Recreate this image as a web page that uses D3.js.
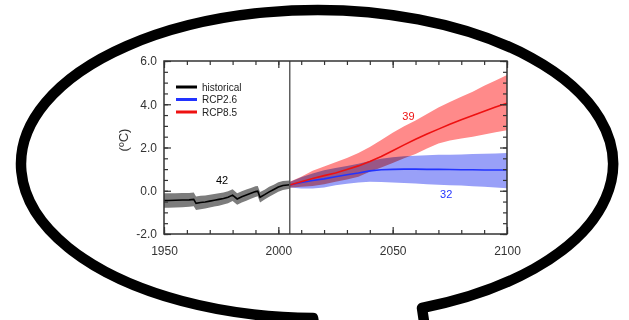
<!DOCTYPE html>
<html>
<head>
<meta charset="utf-8">
<script src="https://cdn.jsdelivr.net/npm/d3@7"></script>
<style>
  body { margin: 0; background: #fff; }
  svg { display: block; font-family: "Liberation Sans", Arial, sans-serif; }
</style>
</head>
<body>
<div id="container"></div>
<script>
/* DATA */
const histYears  = [1950, 1952, 1955, 1958, 1961, 1963, 1964, 1966, 1968, 1970, 1972, 1974, 1976, 1978, 1980, 1982, 1984, 1986, 1988, 1990, 1991, 1992, 1994, 1996, 1998, 2000, 2002, 2005];
const histMean   = [-0.45, -0.45, -0.44, -0.43, -0.42, -0.40, -0.58, -0.54, -0.52, -0.48, -0.44, -0.40, -0.36, -0.30, -0.20, -0.38, -0.28, -0.20, -0.12, -0.04, -0.02, -0.30, -0.18, -0.05, 0.06, 0.17, 0.24, 0.28];
const histSpread = [0.34, 0.34, 0.33, 0.33, 0.32, 0.32, 0.31, 0.31, 0.30, 0.30, 0.29, 0.29, 0.28, 0.28, 0.27, 0.27, 0.26, 0.26, 0.25, 0.25, 0.24, 0.24, 0.23, 0.23, 0.22, 0.22, 0.21, 0.19];

const projYears = [2005, 2010, 2015, 2020, 2025, 2030, 2035, 2040, 2045, 2050, 2055, 2060, 2065, 2070, 2075, 2080, 2085, 2090, 2095, 2100];
const rcp26Mean = [0.27, 0.38, 0.47, 0.55, 0.65, 0.74, 0.82, 0.92, 0.97, 0.99, 1.00, 1.00, 0.99, 0.99, 0.98, 0.97, 0.97, 0.96, 0.96, 0.96];
const rcp26Low  = [0.15, 0.10, 0.10, 0.15, 0.25, 0.32, 0.38, 0.42, 0.40, 0.38, 0.36, 0.33, 0.30, 0.28, 0.26, 0.24, 0.21, 0.18, 0.15, 0.12];
const rcp26High = [0.40, 0.62, 0.80, 0.95, 1.05, 1.15, 1.25, 1.38, 1.48, 1.55, 1.60, 1.62, 1.64, 1.66, 1.67, 1.68, 1.70, 1.71, 1.72, 1.74];
const rcp85Mean = [0.27, 0.42, 0.57, 0.70, 0.82, 0.98, 1.15, 1.35, 1.58, 1.85, 2.12, 2.38, 2.62, 2.85, 3.08, 3.28, 3.48, 3.68, 3.87, 4.05];
const rcp85Low  = [0.14, 0.18, 0.22, 0.30, 0.42, 0.52, 0.65, 0.88, 1.08, 1.28, 1.50, 1.70, 1.95, 2.18, 2.32, 2.42, 2.50, 2.60, 2.70, 2.80];
const rcp85High = [0.42, 0.65, 0.92, 1.12, 1.32, 1.52, 1.75, 2.02, 2.35, 2.68, 2.98, 3.25, 3.55, 3.85, 4.10, 4.35, 4.58, 4.85, 5.10, 5.35];

const xTicks = [1950, 2000, 2050, 2100];
const yTicks = [-2, 0, 2, 4, 6];
const legendNames = ["historical", "RCP2.6", "RCP8.5"];
const modelCounts = [{ text: "42", year: 1975.4, value: 0.31 },
                     { text: "39", year: 2056.9, value: 3.27 },
                     { text: "32", year: 2073.4, value: -0.35 }];
const splitYear = 2005;

/* CONSTANTS */
const width = 629, height = 320;
const plot = { left: 164, right: 507, top: 61, bottom: 234 };
const colors = { historical: "#000", rcp26: "#2233ff", rcp85: "#ee1111" };
const bands  = { historical: "#7c7c7c", rcp26: "#99a0f8", rcp85: "#ff8a8a" };

const svg = d3.select("#container")
  .append("svg")
  .attr("width", width)
  .attr("height", height);

// SPEECH BUBBLE
svg.append("path")
  .attr("d", "M316,335 L313,318 A296,154 0 1,1 422,308 L426,335")
  .attr("fill", "none")
  .attr("stroke", "#000")
  .attr("stroke-width", 10.5)
  .attr("stroke-linejoin", "round");

// SCALES
const x = d3.scaleLinear().domain([1950, 2100]).range([plot.left, plot.right]);
const y = d3.scaleLinear().domain([-2, 6]).range([plot.bottom, plot.top]);

const toRows = (years, mean, lo, hi) => years.map((yr, i) => ({ yr, mean: mean[i], lo: lo[i], hi: hi[i] }));
const hist = toRows(histYears, histMean, histMean.map((m, i) => m - histSpread[i]), histMean.map((m, i) => m + histSpread[i]));
const rcp26 = toRows(projYears, rcp26Mean, rcp26Low, rcp26High);
const rcp85 = toRows(projYears, rcp85Mean, rcp85Low, rcp85High);

const area = d3.area().x(d => x(d.yr)).y0(d => y(d.lo)).y1(d => y(d.hi));
const line = d3.line().x(d => x(d.yr)).y(d => y(d.mean));

// BANDS
const bandG = svg.append("g").style("isolation", "isolate");
[[hist, bands.historical], [rcp26, bands.rcp26], [rcp85, bands.rcp85]].forEach(([data, fill]) => {
  bandG.append("path")
    .attr("d", area(data))
    .attr("fill", fill)
    .style("mix-blend-mode", "multiply");
});

// LINES
[[hist, colors.historical], [rcp26, colors.rcp26], [rcp85, colors.rcp85]].forEach(([data, c]) => {
  svg.append("path")
    .attr("d", line(data))
    .attr("fill", "none")
    .attr("stroke", c)
    .attr("stroke-width", 1.6);
});

// 2005 DIVIDER
svg.append("line")
  .attr("x1", x(splitYear)).attr("x2", x(splitYear))
  .attr("y1", plot.top).attr("y2", plot.bottom)
  .attr("stroke", "#555")
  .attr("stroke-width", 1.4);

// AXES (ticks pointing inward)
const tickStyle = g => {
  g.select(".domain").remove();
  g.selectAll("line").attr("stroke", "#333").attr("stroke-width", 1.2);
  g.selectAll("text").attr("fill", "#333").style("font-size", "12px");
};
const minorX = d3.range(1950, 2101, 10);
const minorY = d3.range(-2, 6.01, 0.5);

svg.append("g").attr("transform", `translate(0,${plot.bottom})`)
  .call(d3.axisBottom(x).tickValues(minorX).tickSize(-4).tickFormat("")).call(tickStyle);
svg.append("g").attr("transform", `translate(0,${plot.bottom})`)
  .call(d3.axisBottom(x).tickValues(xTicks).tickSize(-7).tickPadding(12).tickFormat(d3.format("d"))).call(tickStyle);
svg.append("g").attr("transform", `translate(0,${plot.top})`)
  .call(d3.axisTop(x).tickValues(minorX).tickSize(-4).tickFormat("")).call(tickStyle);
svg.append("g").attr("transform", `translate(0,${plot.top})`)
  .call(d3.axisTop(x).tickValues(xTicks).tickSize(-7).tickFormat("")).call(tickStyle);

svg.append("g").attr("transform", `translate(${plot.left},0)`)
  .call(d3.axisLeft(y).tickValues(minorY).tickSize(-4).tickFormat("")).call(tickStyle);
svg.append("g").attr("transform", `translate(${plot.left},0)`)
  .call(d3.axisLeft(y).tickValues(yTicks).tickSize(-7).tickPadding(7).tickFormat(d => d.toFixed(1))).call(tickStyle);
svg.append("g").attr("transform", `translate(${plot.right},0)`)
  .call(d3.axisRight(y).tickValues(minorY).tickSize(-4).tickFormat("")).call(tickStyle);
svg.append("g").attr("transform", `translate(${plot.right},0)`)
  .call(d3.axisRight(y).tickValues(yTicks).tickSize(-7).tickFormat("")).call(tickStyle);

// FRAME
svg.append("rect")
  .attr("x", plot.left).attr("y", plot.top)
  .attr("width", plot.right - plot.left).attr("height", plot.bottom - plot.top)
  .attr("fill", "none")
  .attr("stroke", "#333")
  .attr("stroke-width", 1.5);

// Y LABEL
svg.append("text")
  .attr("transform", "translate(128,140) rotate(-90)")
  .attr("text-anchor", "middle")
  .attr("fill", "#333")
  .style("font-size", "13px")
  .text("(ºC)");

// LEGEND
const legend = svg.append("g").attr("transform", "translate(176,87)");
legendNames.forEach((name, i) => {
  const c = [colors.historical, colors.rcp26, colors.rcp85][i];
  legend.append("line")
    .attr("x1", 0).attr("x2", 21)
    .attr("y1", i * 12.5).attr("y2", i * 12.5)
    .attr("stroke", c)
    .attr("stroke-width", 3);
  legend.append("text")
    .attr("x", 26).attr("y", i * 12.5)
    .attr("dy", "0.35em")
    .attr("fill", "#222")
    .style("font-size", "10px")
    .text(name);
});

// MODEL COUNTS
const countColors = [colors.historical, colors.rcp85, colors.rcp26];
svg.selectAll("text.count")
  .data(modelCounts)
  .join("text")
  .attr("class", "count")
  .attr("x", d => x(d.year))
  .attr("y", d => y(d.value))
  .attr("text-anchor", "middle")
  .attr("fill", (d, i) => countColors[i])
  .style("font-size", "11px")
  .text(d => d.text);
</script>
</body>
</html>
